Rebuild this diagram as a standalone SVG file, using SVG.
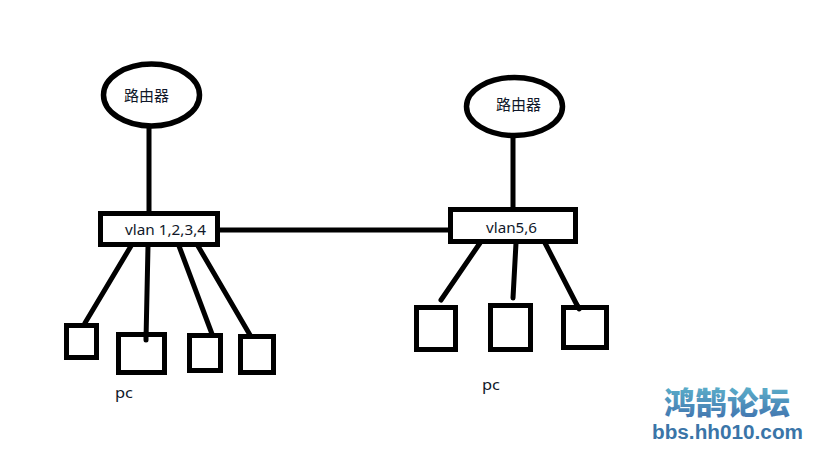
<svg xmlns="http://www.w3.org/2000/svg" width="819" height="460" viewBox="0 0 819 460">
  <style>
    .shape { fill: #fff; stroke: #000; stroke-width: 5; }
    .oval { fill: #fff; stroke: #000; stroke-width: 5.500; }
    .link { fill: none; stroke: #000; stroke-width: 5; stroke-linecap: round; }
    .label { font-family: "Noto Sans", "Noto Sans CJK SC", sans-serif; font-size: 15px; fill: #10182a; }
    .cjk { font-family: "Noto Sans CJK SC", sans-serif; font-size: 15px; fill: #10182a; }
    .brand { font-family: "Noto Sans CJK SC", sans-serif; font-weight: 900; font-size: 31px; fill: url(#brandFill); }
    .site { font-family: "Liberation Sans", sans-serif; font-weight: 700; font-size: 19.500px; fill: #3a75a8; }
  </style>
  <defs>
    <linearGradient id="brandFill" x1="0" y1="0" x2="0" y2="1">
      <stop offset="0" stop-color="#62bdd0"/>
      <stop offset="1" stop-color="#3f6eac"/>
    </linearGradient>
  </defs>
  <rect width="819" height="460" fill="#fff"/>

  <g id="connectors">
    <line class="link" x1="149" y1="126" x2="149" y2="213"/>
    <line class="link" x1="513" y1="136" x2="513" y2="209"/>
    <line class="link" x1="218" y1="230" x2="450" y2="230"/>
    <line class="link" x1="131" y1="246" x2="85" y2="323"/>
    <line class="link" x1="148" y1="246" x2="146" y2="340"/>
    <line class="link" x1="179" y1="246" x2="212" y2="334"/>
    <line class="link" x1="198" y1="246" x2="250" y2="335"/>
    <line class="link" x1="480" y1="243" x2="441" y2="300"/>
    <line class="link" x1="516" y1="243" x2="513" y2="298"/>
    <line class="link" x1="545" y1="243" x2="579" y2="309"/>
  </g>

  <g id="router-left">
    <ellipse class="oval" cx="151.500" cy="95" rx="48" ry="31"/>
    <text class="cjk" x="124" y="101">路由器</text>
  </g>
  <g id="router-right">
    <ellipse class="oval" cx="514.500" cy="106.500" rx="48" ry="29"/>
    <text class="cjk" x="496" y="110">路由器</text>
  </g>

  <g id="switch-left">
    <rect class="shape" x="100.500" y="213.500" width="117" height="31"/>
    <text class="label" x="125" y="235" textLength="81" lengthAdjust="spacingAndGlyphs">vlan 1,2,3,4</text>
  </g>
  <g id="switch-right">
    <rect class="shape" x="450.500" y="209.500" width="125" height="32"/>
    <text class="label" x="486" y="233" textLength="51" lengthAdjust="spacingAndGlyphs">vlan5,6</text>
  </g>

  <g id="pc-1"><rect class="shape" x="66.500" y="325.500" width="30" height="32"/></g>
  <g id="pc-2"><rect class="shape" x="118.500" y="334.500" width="46" height="38"/></g>
  <line class="link" x1="146" y1="333" x2="146" y2="340"/>
  <g id="pc-3"><rect class="shape" x="189.500" y="335.500" width="31" height="35"/></g>
  <g id="pc-4"><rect class="shape" x="240.500" y="336.500" width="33" height="36"/></g>
  <g id="pc-5"><rect class="shape" x="416.500" y="307.500" width="39" height="42"/></g>
  <g id="pc-6"><rect class="shape" x="490.500" y="305.500" width="40" height="44"/></g>
  <g id="pc-7"><rect class="shape" x="563.500" y="307.500" width="43" height="40"/></g>
  <line class="link" x1="577" y1="305" x2="579" y2="309"/>

  <g id="pc-label-left"><text class="label" x="115" y="398" textLength="18" lengthAdjust="spacingAndGlyphs">pc</text></g>
  <g id="pc-label-right"><text class="label" x="482" y="390" textLength="18" lengthAdjust="spacingAndGlyphs">pc</text></g>

  <g id="site-mark">
    <text class="brand" x="664" y="414" textLength="126" lengthAdjust="spacingAndGlyphs">鸿鹄论坛</text>
    <text class="site" x="652" y="439" textLength="151" lengthAdjust="spacingAndGlyphs">bbs.hh010.com</text>
  </g>
</svg>
